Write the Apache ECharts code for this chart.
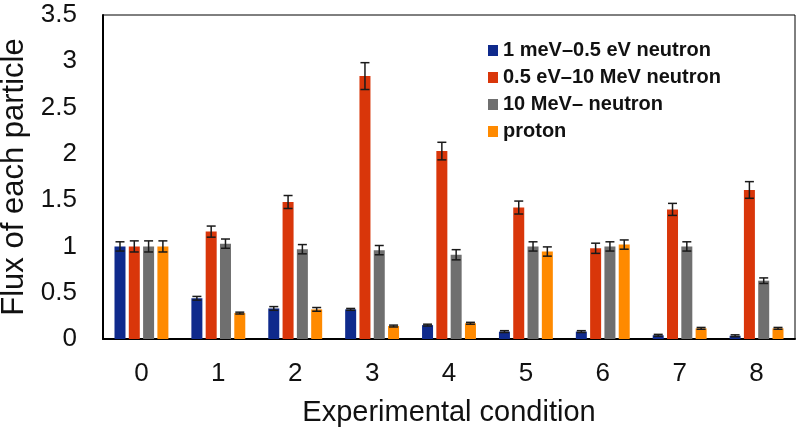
<!DOCTYPE html>
<html><head><meta charset="utf-8">
<script src="https://cdn.jsdelivr.net/npm/echarts@6/dist/echarts.min.js"></script>
<style>html,body{margin:0;padding:0;background:#fff}#c{width:799px;height:432px}</style>
</head><body><div id="c"></div>
<script>
const categories = ['0','1','2','3','4','5','6','7','8'];
const seriesNames = ['1 meV\u20130.5 eV neutron','0.5 eV\u201310 MeV neutron','10 MeV\u2013 neutron','proton'];
const lowNeutron = [1.0, 0.44, 0.33, 0.32, 0.15, 0.08, 0.08, 0.04, 0.035];
const lowNeutronErr = [0.05, 0.02, 0.02, 0.01, 0.01, 0.01, 0.01, 0.01, 0.01];
const midNeutron = [1.0, 1.16, 1.48, 2.84, 2.03, 1.42, 0.98, 1.40, 1.61];
const midNeutronErr = [0.06, 0.06, 0.07, 0.145, 0.095, 0.07, 0.055, 0.065, 0.09];
const highNeutron = [1.0, 1.03, 0.97, 0.96, 0.91, 1.0, 1.0, 1.0, 0.63];
const highNeutronErr = [0.06, 0.05, 0.05, 0.05, 0.055, 0.05, 0.05, 0.05, 0.03];
const proton = [1.0, 0.28, 0.32, 0.14, 0.17, 0.945, 1.02, 0.115, 0.115];
const protonErr = [0.06, 0.01, 0.02, 0.01, 0.01, 0.05, 0.05, 0.01, 0.01];
const yTicks = {min: 0, max: 3.5, interval: 0.5};

const colors = ['#0f2a8c', '#d9360a', '#6f6f6f', '#ff8a00'];
const values = [lowNeutron, midNeutron, highNeutron, proton];
const errors = [lowNeutronErr, midNeutronErr, highNeutronErr, protonErr];
const BW = 11, GAP = 0.3;
const FONT = 'Liberation Sans, Arial, sans-serif';

const chart = echarts.init(document.getElementById('c'), null, {renderer: 'canvas'});
const series = [];
values.forEach((vals, s) => {
  series.push({
    name: seriesNames[s], type: 'bar', data: vals, barWidth: BW, barGap: (GAP*100)+'%',
    itemStyle: {color: colors[s]}, animation: false
  });
});
values.forEach((vals, s) => {
  const offset = (s - 1.5) * BW * (1 + GAP);
  series.push({
    type: 'custom', animation: false, z: 10, silent: true,
    data: vals.map((v, i) => [i, v, errors[s][i]]),
    encode: {x: 0, y: 1},
    renderItem: function (params, api) {
      const i = api.value(0), v = api.value(1), e = api.value(2);
      const top = api.coord([i, v + e]);
      const bot = api.coord([i, v - e]);
      const x = top[0] + offset;
      const hw = 4.5;
      const st = {stroke: '#1a1a1a', lineWidth: 1.5};
      return {type: 'group', children: [
        {type: 'line', shape: {x1: x, y1: top[1], x2: x, y2: bot[1]}, style: st},
        {type: 'line', shape: {x1: x - hw, y1: top[1], x2: x + hw, y2: top[1]}, style: st},
        {type: 'line', shape: {x1: x - hw, y1: bot[1], x2: x + hw, y2: bot[1]}, style: st}
      ]};
    }
  });
});

chart.setOption({
  animation: false,
  backgroundColor: '#fff',
  grid: {left: 103, top: 15, right: 4, bottom: 93, show: true, borderColor: '#000', borderWidth: 1,
         containLabel: false, outerBoundsMode: 'none'},
  legend: {
    data: seriesNames, orient: 'vertical', left: 483, top: 35, itemGap: 6,
    itemWidth: 10, itemHeight: 11, icon: 'rect',
    textStyle: {fontFamily: FONT, fontSize: 20, lineHeight: 21, fontWeight: 'bold', color: '#111'}
  },
  xAxis: {
    type: 'category', data: categories,
    axisLine: {lineStyle: {color: '#000', width: 2}},
    axisTick: {show: false},
    axisLabel: {fontFamily: FONT, fontSize: 26, color: '#111', margin: 22},
    name: 'Experimental condition', nameLocation: 'middle', nameGap: 59,
    nameTextStyle: {fontFamily: FONT, fontSize: 29, color: '#111'}
  },
  yAxis: {
    type: 'value', min: yTicks.min, max: yTicks.max, interval: yTicks.interval,
    axisLine: {show: true, lineStyle: {color: '#000', width: 2}},
    axisTick: {show: false},
    splitLine: {show: false},
    axisLabel: {fontFamily: FONT, fontSize: 26, color: '#111', margin: 26},
    name: 'Flux of each particle', nameLocation: 'middle', nameGap: 72,
    nameTextStyle: {fontFamily: FONT, fontSize: 31, color: '#111'}
  },
  series: series
});
</script></body></html>
